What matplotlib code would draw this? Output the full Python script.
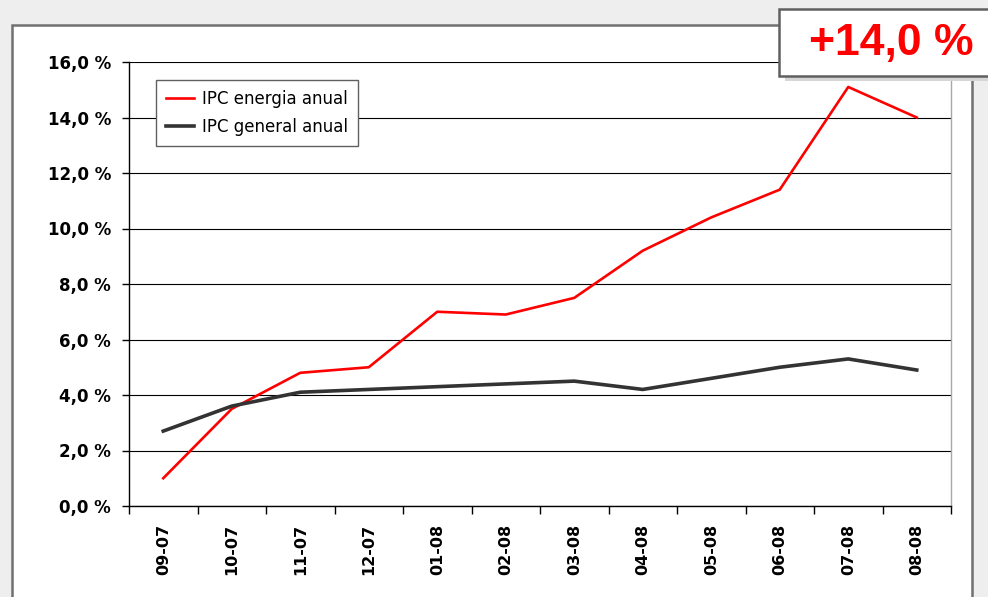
import matplotlib.pyplot as plt
from matplotlib.patches import Rectangle
from matplotlib.ticker import FuncFormatter, FixedLocator

W, H = 988, 597

months = ["09-07", "10-07", "11-07", "12-07", "01-08", "02-08",
          "03-08", "04-08", "05-08", "06-08", "07-08", "08-08"]
ipc_energia = [1.0, 3.5, 4.8, 5.0, 7.0, 6.9, 7.5, 9.2, 10.4, 11.4, 15.1, 14.0]
ipc_general = [2.7, 3.6, 4.1, 4.2, 4.3, 4.4, 4.5, 4.2, 4.6, 5.0, 5.3, 4.9]
callout_text = "+14,0 %"


def px_box(x0, y0, x1, y1):
    # pixel box (top-left origin) -> figure fraction rect
    return [x0 / W, 1 - y1 / H, (x1 - x0) / W, (y1 - y0) / H]


fig = plt.figure(figsize=(W / 100, H / 100), dpi=100, facecolor="#eeeeee")

# white panel behind the chart
fig.patches.append(Rectangle((12 / W, -0.05), (972 - 12) / W, 1 - 25 / H + 0.05,
                             transform=fig.transFigure, facecolor="white",
                             edgecolor="#707070", linewidth=1.8, zorder=-1))

ax = fig.add_axes(px_box(129, 62, 951, 506))
ax.set_zorder(1)
ax.set_facecolor("white")

x = list(range(len(months)))
ax.plot(x, ipc_energia, color="#ff0000", linewidth=1.9, label="IPC energia anual", zorder=3)
ax.plot(x, ipc_general, color="#333333", linewidth=2.6, label="IPC general anual", zorder=3)

ax.set_xlim(-0.5, len(months) - 0.5)
ax.set_ylim(0, 16)
ax.set_yticks([0, 2, 4, 6, 8, 10, 12, 14, 16])
ax.yaxis.set_major_formatter(FuncFormatter(lambda v, p: f"{v:.1f} %".replace(".", ",")))
ax.yaxis.grid(True, color="black", linewidth=0.8)
ax.set_axisbelow(True)

ax.set_xticks(x)
ax.set_xticklabels(months, rotation=90, fontweight="bold", fontsize=11.5)
ax.xaxis.set_minor_locator(FixedLocator([i - 0.5 for i in range(len(months) + 1)]))
ax.tick_params(axis="x", which="major", length=0, pad=13)
ax.tick_params(axis="x", which="minor", length=6, width=1, direction="out", color="black")
ax.tick_params(axis="y", length=5, width=1, direction="out", pad=8, labelsize=12)
for lab in ax.get_yticklabels():
    lab.set_fontweight("bold")

for side in ("left", "bottom"):
    ax.spines[side].set_color("black")
    ax.spines[side].set_linewidth(1)
ax.spines["top"].set_visible(False)
ax.spines["right"].set_color("#a8a8a8")
ax.spines["right"].set_linewidth(1)

leg = ax.legend(loc="upper left", bbox_to_anchor=(156 / W, 1 - 80 / H),
                bbox_transform=fig.transFigure, borderaxespad=0, fancybox=False,
                fontsize=12, handlelength=1.7, handletextpad=0.45,
                borderpad=0.6, labelspacing=0.6, framealpha=1)
leg.get_frame().set_edgecolor("#606060")
leg.get_frame().set_linewidth(1)

# callout box top right
fig.patches.append(Rectangle((785 / W, 1 - 81 / H), 0.3, (81 - 15) / H,
                             transform=fig.transFigure, facecolor="#d6d6d6",
                             edgecolor="none", zorder=5))
fig.patches.append(Rectangle((779 / W, 1 - 76 / H), 0.3, (76 - 9) / H,
                             transform=fig.transFigure, facecolor="white",
                             edgecolor="#606060", linewidth=1.8, zorder=6))
fig.text(891 / W, 1 - 44 / H, callout_text, color="#ff0000", fontsize=32,
         fontweight="bold", family="Liberation Sans", ha="center", va="center", zorder=7)

fig.savefig("out.png", dpi=100, facecolor=fig.get_facecolor())
